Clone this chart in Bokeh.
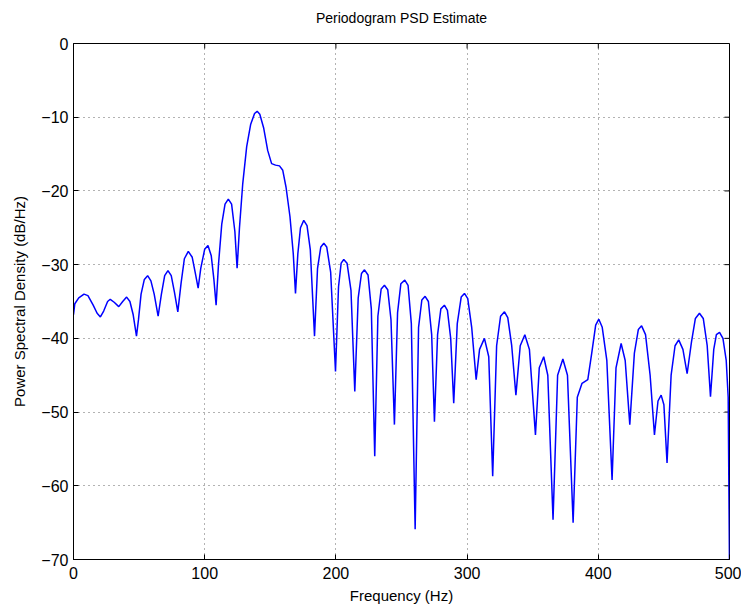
import math
from bokeh.plotting import figure
from bokeh.models import Range1d, LinearAxis, FixedTicker, Title
from bokeh.embed import file_html
from bokeh.resources import INLINE

title_text = "Periodogram PSD Estimate"

freq_hz = [0, 1, 4, 8, 11, 15, 18, 20.5, 23, 26, 28, 31, 34.5, 37.5, 40.5, 43, 45.5, 48, 49.5, 51.5,
           54, 56.5, 59, 61.5, 64.5, 67, 69.5, 72, 74.5, 77, 79.5, 82, 84.5, 87.5, 90.5, 93, 95, 97,
           100, 102.5, 105, 107, 108.7, 110.5, 113, 115.5, 118, 120.5, 123, 124.7, 126.5, 129, 132,
           135, 138, 140, 142, 145, 148, 151, 154, 157, 159.5, 162, 165, 167.5, 169.2, 171, 173,
           175.5, 178, 180.5, 183.7, 186, 188.5, 190.8, 193, 196, 199.7, 202, 204, 206, 208.5,
           211.5, 214.4, 217, 219.5, 221.8, 224.5, 227, 229.6, 232, 234.5, 237, 239.5, 242, 244.6,
           247, 249.5, 252.5, 255, 257.5, 260.4, 263, 265.5, 268, 270.5, 273, 275.1, 277.5, 280,
           282.7, 285, 287.5, 289.8, 292.5, 295.5, 298, 300.5, 303.5, 306.9, 309.5, 313.2, 316.5,
           319.5, 322.5, 325.5, 328.5, 331, 334, 337.2, 340.5, 344, 347.5, 352.1, 355, 358.4, 361.5,
           365.5, 369, 373, 376.5, 380.8, 384, 387.6, 392, 395, 398, 400.4, 403, 406.5, 410.5, 413.5,
           417.4, 420.5, 424, 427.5, 430.5, 433, 436, 439.5, 442.8, 445.5, 447.9, 450, 452.4, 455.5,
           458.5, 461.3, 464.5, 467.7, 471, 474, 477.1, 480, 483, 485.5, 488, 490, 492.4, 495, 497.5,
           499, 500]

psd_db = [-36.8, -35.3, -34.5, -34.0, -34.2, -35.5, -36.6, -37.1, -36.3, -35.0, -34.7, -35.1, -35.7,
          -35.0, -34.4, -35.0, -36.8, -39.7, -37.5, -34.0, -32.0, -31.5, -32.2, -34.0, -37.0, -34.0,
          -31.5, -30.8, -31.5, -33.8, -36.4, -32.5, -29.2, -28.2, -29.0, -31.3, -33.2, -30.5, -27.9,
          -27.4, -28.8, -32.0, -35.5, -30.0, -24.5, -21.8, -21.1, -21.8, -25.5, -30.5, -25.0, -19.0,
          -14.0, -11.0, -9.5, -9.2, -9.6, -11.5, -14.5, -16.3, -16.5, -16.6, -17.2, -19.5, -23.5,
          -28.5, -33.9, -28.5, -25.0, -24.0, -24.7, -28.0, -39.7, -30.5, -27.6, -27.1, -27.6, -31.0,
          -44.5, -33.0, -29.8, -29.3, -29.8, -33.5, -47.2, -34.5, -31.2, -30.7, -31.4, -36.0, -56.0,
          -37.0, -33.3, -32.8, -33.4, -37.5, -51.7, -36.5, -32.6, -32.1, -32.8, -38.0, -65.9, -38.5,
          -34.8, -34.3, -35.0, -39.5, -51.3, -39.5, -36.0, -35.5, -36.2, -40.0, -48.8, -38.0, -34.4,
          -33.9, -34.6, -38.5, -45.6, -41.5, -40.0, -42.5, -58.7, -41.0, -37.0, -36.4, -37.2, -41.0,
          -47.7, -41.0, -39.5, -41.5, -53.1, -44.0, -42.5, -45.0, -64.6, -45.0, -42.8, -45.0, -65.0,
          -48.0, -46.1, -45.6, -42.0, -38.2, -37.4, -38.5, -43.0, -59.2, -44.0, -40.7, -43.0, -51.7,
          -42.0, -38.8, -38.3, -39.5, -45.0, -53.1, -48.5, -47.7, -49.0, -56.9, -45.0, -41.0, -40.2,
          -41.5, -44.8, -40.5, -37.3, -36.6, -37.3, -41.0, -47.9, -41.5, -39.5, -39.2, -40.0, -43.0,
          -48.0, -71.0]

x_ticks = [0, 100, 200, 300, 400, 500]
y_ticks = [-70, -60, -50, -40, -30, -20, -10, 0]

FONT = "Liberation Sans"

p = figure(width=741, height=606, output_backend="svg", toolbar_location=None,
           x_range=Range1d(0, 500), y_range=Range1d(-70, 0),
           min_border_left=73, min_border_right=12, min_border_top=43, min_border_bottom=40,
           title=title_text, x_axis_location=None, y_axis_location=None)

p.title.align = "center"
p.title.text_font = FONT
p.title.text_font_style = "normal"
p.title.text_font_size = "14px"
p.title.text_color = "black"

# spacer between the title and the box (pushes the title upward)
p.add_layout(Title(text=" ", text_font_size="10px", standoff=0), "above")

def make_axis(ticks, label_text, overrides, standoff, label_standoff):
    ax = LinearAxis(ticker=FixedTicker(ticks=ticks))
    ax.major_tick_in = 5
    ax.major_tick_out = 0
    ax.minor_tick_in = 0
    ax.minor_tick_out = 0
    ax.axis_line_color = "black"
    ax.axis_line_width = 1
    ax.major_tick_line_color = "black"
    ax.major_label_text_font = FONT
    ax.major_label_text_font_size = "16px"
    ax.major_label_text_color = "black"
    ax.major_label_standoff = standoff
    ax.major_label_overrides = overrides
    ax.axis_label = label_text
    ax.axis_label_text_font = FONT
    ax.axis_label_text_font_style = "normal"
    ax.axis_label_text_font_size = "15px"
    ax.axis_label_text_color = "black"
    ax.axis_label_standoff = label_standoff
    return ax

x_over = {t: str(t) for t in x_ticks}
y_over = {t: (str(t).replace("-", "\u2212")) for t in y_ticks}
p.add_layout(make_axis(x_ticks, "Frequency (Hz)", x_over, 7, 5), "below")
p.add_layout(make_axis(y_ticks, "Power Spectral Density (dB/Hz)", y_over, 5, 10), "left")

# inward tick marks on the top and right edges of the box
p.ray(x=x_ticks, y=[y_ticks[-1]] * len(x_ticks), length=5, length_units="screen",
      angle=-math.pi / 2, line_color="black", line_width=1)
p.ray(x=[x_ticks[-1]] * len(y_ticks), y=y_ticks, length=5, length_units="screen",
      angle=math.pi, line_color="black", line_width=1)

p.xgrid.ticker = FixedTicker(ticks=x_ticks)
p.ygrid.ticker = FixedTicker(ticks=y_ticks)
for g in (p.xgrid, p.ygrid):
    g.grid_line_color = "#333333"
    g.grid_line_alpha = 0.75
    g.grid_line_dash = "1 4"
    g.grid_line_width = 1

p.outline_line_color = "black"
p.outline_line_width = 1
p.background_fill_color = "white"
p.border_fill_color = "white"

p.line(freq_hz, psd_db, line_color="#0000ff", line_width=1.5)

open("out.html", "w").write(file_html(p, INLINE))
